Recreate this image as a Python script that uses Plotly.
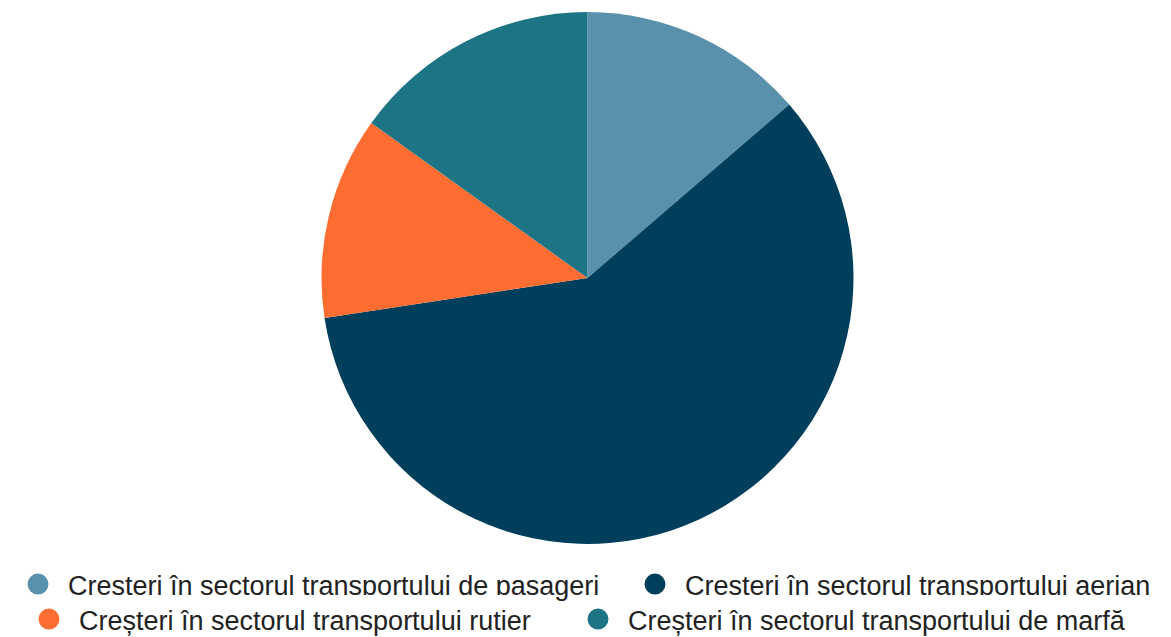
import plotly.graph_objects as go

labels = [
    "Creșteri în sectorul transportului de pasageri",
    "Creșteri în sectorul transportului aerian",
    "Creșteri în sectorul transportului rutier",
    "Creșteri în sectorul transportului de marfă",
]
values = [13.7, 58.9, 12.3, 15.1]
colors = ["#5991ad", "#003f5c", "#fd6d31", "#1d7485"]
legend_ids = ["legend", "legend2", "legend3", "legend4"]

fig = go.Figure()
fig.add_trace(go.Pie(
    labels=labels, values=values, sort=False, direction="clockwise", rotation=0,
    marker=dict(colors=colors, line=dict(width=0)), textinfo="none",
    showlegend=False, domain=dict(x=[0, 1], y=[0, 1]),
))
for lab, col, lg in zip(labels, colors, legend_ids):
    fig.add_trace(go.Scatter(
        x=[None], y=[None], mode="markers", name=lab, legend=lg,
        marker=dict(color=col, size=26, symbol="circle", line=dict(color=col, width=6)),
    ))

leg_common = dict(orientation="h", xref="container", yref="container",
                  xanchor="left", yanchor="top",
                  itemsizing="trace", itemwidth=50,
                  font=dict(size=27, color="#222222"))

# legend item anchor positions (px) — symbol centre is ~38 px right of x
row1_y, row2_y = 1 - 552 / 637, 1 - 587 / 637
fig.update_layout(
    width=1171, height=637,
    margin=dict(l=14, r=26, t=4, b=101, autoexpand=False),
    paper_bgcolor="white", plot_bgcolor="white",
    xaxis=dict(visible=False), yaxis=dict(visible=False),
    font=dict(family="Liberation Sans, Arial, sans-serif", size=27, color="#222222"),
    legend=dict(x=-13 / 1171, y=row1_y, **leg_common),
    legend2=dict(x=617 / 1171, y=row1_y, **leg_common),
    legend3=dict(x=11 / 1171, y=row2_y, **leg_common),
    legend4=dict(x=560 / 1171, y=row2_y, **leg_common),
)
fig.write_html("out.html")
